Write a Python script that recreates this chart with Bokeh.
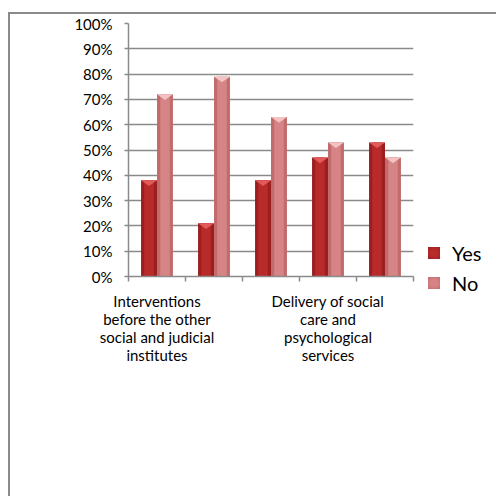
from bokeh.plotting import figure
from bokeh.layouts import row
from bokeh.models import (Range1d, FixedTicker, NumeralTickFormatter, ColumnDataSource, Div)
from bokeh.transform import dodge
from bokeh.embed import file_html
from bokeh.resources import INLINE

# ---- data ----
positions = [0, 1, 2, 3, 4]
x_labels = ["Interventions\nbefore the other\nsocial and judicial\ninstitutes", "", "",
            "Delivery of social\ncare and\npsychological\nservices", ""]
yes_vals = [0.38, 0.21, 0.38, 0.47, 0.53]
no_vals = [0.72, 0.79, 0.63, 0.53, 0.47]
series_names = ["Yes", "No"]
y_ticks = [0.0, 0.1, 0.2, 0.3, 0.4, 0.5, 0.6, 0.7, 0.8, 0.9, 1.0]

# colours
yes_edge, yes_fill, yes_top = "#9c1f20", "#b92a2b", "#e25b5b"
no_edge, no_fill, no_top = "#c26b6c", "#d68486", "#f2c3c3"
grid_col = "#8a8a8a"
font = "Lato"

bar_w = 0.28
off = 0.14
cap = 0.022  # depth of bevel triangle in data units

src = ColumnDataSource(dict(x=positions, yes=yes_vals, no=no_vals))

p = figure(width=418, height=482, x_range=Range1d(-0.5, 4.5), y_range=Range1d(0, 1),
           output_backend="svg", toolbar_location=None,
           min_border_left=118, min_border_right=15, min_border_top=9, min_border_bottom=220)
p.outline_line_color = None
p.background_fill_color = "white"
p.border_fill_color = "white"

# bars
p.vbar(x=dodge("x", -off, range=p.x_range), top="yes", width=bar_w, source=src,
       fill_color=yes_edge, line_color=None)
p.vbar(x=dodge("x", -off, range=p.x_range), top="yes", width=bar_w * 0.6, source=src,
       fill_color=yes_fill, line_color=None)
p.vbar(x=dodge("x", off, range=p.x_range), top="no", width=bar_w, source=src,
       fill_color=no_edge, line_color=None)
p.vbar(x=dodge("x", off, range=p.x_range), top="no", width=bar_w * 0.6, source=src,
       fill_color=no_fill, line_color=None)

# bevel triangles on bar tops
def tri(vals, o):
    xs = [[x + o - bar_w / 2, x + o + bar_w / 2, x + o] for x in positions]
    ys = [[v, v, v - cap] for v in vals]
    return xs, ys

xs, ys = tri(yes_vals, -off)
p.patches(xs, ys, fill_color=yes_top, line_color=None)
xs, ys = tri(no_vals, off)
p.patches(xs, ys, fill_color=no_top, line_color=None)

# y axis
p.yaxis.ticker = FixedTicker(ticks=y_ticks)
p.yaxis.formatter = NumeralTickFormatter(format="0%")
p.yaxis.axis_line_color = grid_col
p.yaxis.axis_line_width = 1.5
p.yaxis.major_tick_line_color = grid_col
p.yaxis.major_tick_line_width = 1.5
p.yaxis.major_tick_out = 4
p.yaxis.major_tick_in = 0
p.yaxis.minor_tick_line_color = None
p.yaxis.major_label_standoff = 12
p.yaxis.major_label_text_font = font
p.yaxis.major_label_text_font_size = "15px"
p.yaxis.major_label_text_color = "black"

p.ygrid.ticker = FixedTicker(ticks=y_ticks)
p.ygrid.grid_line_color = grid_col
p.ygrid.grid_line_width = 1.5
p.xgrid.grid_line_color = None

# x axis
p.xaxis.ticker = FixedTicker(ticks=[0, 3], minor_ticks=[-0.5, 0.5, 1.5, 2.5, 3.5, 4.5])
p.xaxis.major_label_overrides = {i: lab for i, lab in zip(positions, x_labels) if lab}
p.xaxis.axis_line_color = grid_col
p.xaxis.axis_line_width = 1.5
p.xaxis.major_tick_line_color = None
p.xaxis.major_tick_out = 0
p.xaxis.major_tick_in = 0
p.xaxis.minor_tick_line_color = grid_col
p.xaxis.minor_tick_line_width = 1.5
p.xaxis.minor_tick_out = 5
p.xaxis.minor_tick_in = 0
p.xaxis.major_label_standoff = 10
p.xaxis.major_label_text_font = font
p.xaxis.major_label_text_font_size = "15px"
p.xaxis.major_label_text_color = "black"
p.xaxis.major_label_text_line_height = 1.0
p.xaxis.major_label_orientation = "horizontal"

# legend as an HTML block to the right of the plot
swatches = [(series_names[0], yes_fill, yes_edge), (series_names[1], no_fill, no_edge)]
items_html = ""
for i, (name, fill, edge) in enumerate(swatches):
    top = 229 + 30 * i
    items_html += (
        f'<div style="position:absolute;left:0px;top:{top}px;height:20px;display:flex;'
        f'align-items:center;font-family:Lato;font-size:20px;color:black;white-space:nowrap;">'
        f'<span style="display:inline-block;width:12px;height:12px;'
        f'background:radial-gradient(circle, {fill} 40%, {edge} 100%);margin-right:12px;"></span>'
        f'{name}</div>')
legend_div = Div(text=f'<div style="position:relative;width:68px;height:482px;">{items_html}</div>',
                 width=68, height=482, margin=0)

lay = row(p, legend_div, spacing=0)
lay.styles = {"margin-left": "8px", "margin-top": "12px",
              "border-left": "2px solid #8a8a8a", "border-top": "2px solid #8a8a8a"}

open("out.html", "w").write(file_html(lay, INLINE))
